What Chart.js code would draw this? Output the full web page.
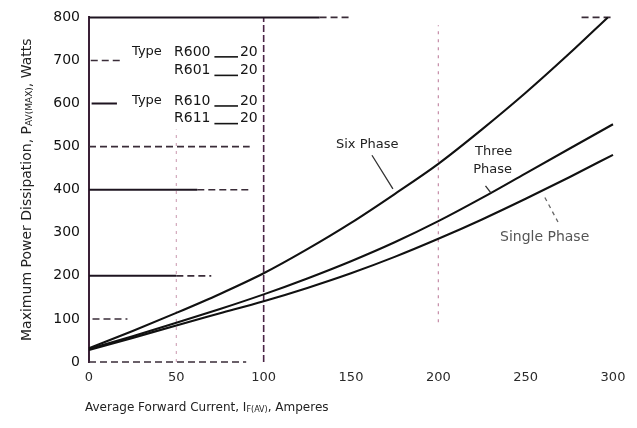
<!DOCTYPE html>
<html>
<head>
<meta charset="utf-8">
<script src="https://cdn.jsdelivr.net/npm/chart.js@4"></script>
<style>
  html, body { margin: 0; padding: 0; background: #fff; }
  canvas { display: block; }
</style>
</head>
<body>
<canvas id="c" width="637" height="428"></canvas>
<script>
// Average forward current, amperes
const currentA = [0, 25, 50, 75, 100, 125, 150, 175, 200, 225, 250, 275, 300];
// The six phase curve leaves the 800 W scale just before 300 A
const currentSixA = [0, 25, 50, 75, 100, 125, 150, 175, 200, 225, 250, 275, 297];

// Maximum power dissipation, watts
const sixPhaseW    = [32, 72, 114, 158, 206, 262, 323, 390, 460, 540, 625, 716, 800];
const threePhaseW  = [30, 60, 91, 123, 157, 194, 234, 278, 327, 381, 438, 495, 552];
const singlePhaseW = [28, 56, 85, 113, 141, 172, 206, 244, 286, 331, 379, 429, 481];

const currentTicks = [0, 50, 100, 150, 200, 250, 300];
const powerTicks = [0, 100, 200, 300, 400, 500, 600, 700, 800];

// Horizontal guides: [watts, from amps, to amps]
const solidGuides = [[800, 0, 132], [400, 0, 62], [200, 0, 50], [600, 1.5, 16]];
const dashedGuides = [[800, 132, 150], [800, 282, 300], [500, 0, 92], [400, 62, 92],
                      [200, 50, 70], [100, 2, 22], [0, 0, 90], [700, 1, 18]];
// Vertical guides: [amps, from watts, to watts]
const currentGuides = [[100, 0, 800], [200, 92, 782], [50, 0, 540]];

const pts = (xs, ys) => xs.map((x, i) => ({ x, y: ys[i] }));

const curveStyle = {
  borderColor: '#111', borderWidth: 2.1, pointRadius: 0,
  cubicInterpolationMode: 'monotone', fill: false, clip: 4
};

const datasets = [
  { label: 'Six Phase', data: pts(currentSixA, sixPhaseW), ...curveStyle },
  { label: 'Three Phase', data: pts(currentA, threePhaseW), ...curveStyle },
  { label: 'Single Phase', data: pts(currentA, singlePhaseW), ...curveStyle }
];

solidGuides.forEach(([w, a0, a1]) => datasets.push({
  data: [{ x: a0, y: w }, { x: a1, y: w }],
  borderColor: '#1e1420', borderWidth: 2, pointRadius: 0, clip: 4
}));
dashedGuides.forEach(([w, a0, a1]) => datasets.push({
  data: [{ x: a0, y: w }, { x: a1, y: w }],
  borderColor: '#3a2c38', borderWidth: 1.6, borderDash: [7, 4], pointRadius: 0, clip: 4
}));
currentGuides.forEach(([a, w0, w1], i) => datasets.push({
  data: [{ x: a, y: w0 }, { x: a, y: w1 }],
  borderColor: i === 0 ? '#4a2446' : (i === 1 ? '#c48aa6' : '#d2a8bc'),
  borderWidth: i === 0 ? 1.6 : 1.2,
  borderDash: i === 0 ? [7, 3] : [3, 5],
  pointRadius: 0, clip: 4
}));

// Draws a run of text pieces, some of them lowered as subscripts
function drawRun(ctx, x, y, pieces) {
  let cx = x;
  pieces.forEach(([txt, font, dy]) => {
    ctx.font = font;
    ctx.fillText(txt, cx, y + dy);
    cx += ctx.measureText(txt).width;
  });
  return cx - x;
}
function runWidth(ctx, pieces) {
  let w = 0;
  pieces.forEach(([txt, font]) => { ctx.font = font; w += ctx.measureText(txt).width; });
  return w;
}

const notes = {
  id: 'notes',
  afterDatasetsDraw(chart) {
    const { ctx, scales: { x, y } } = chart;
    const px = v => x.getPixelForValue(v);
    const py = v => y.getPixelForValue(v);
    ctx.save();
    ctx.fillStyle = '#151515';
    ctx.textBaseline = 'middle';
    ctx.textAlign = 'left';

    // Device type key
    const rows = [
      { type: true, code: 'R600', w: 720 },
      { type: false, code: 'R601', w: 677 },
      { type: true, code: 'R610', w: 606 },
      { type: false, code: 'R611', w: 565 }
    ];
    rows.forEach(r => {
      const yy = py(r.w);
      ctx.font = '13px "DejaVu Sans"';
      if (r.type) ctx.fillText('Type', px(24.6), yy);
      ctx.font = '14px "DejaVu Sans"';
      ctx.fillText(r.code, px(48.7), yy);
      ctx.strokeStyle = '#151515';
      ctx.lineWidth = 1.6;
      ctx.beginPath();
      ctx.moveTo(px(71.8), yy + 5);
      ctx.lineTo(px(85.3), yy + 5);
      ctx.stroke();
      ctx.fillText('20', px(86.4), yy);
    });

    // Curve names and their pointers
    ctx.font = '13px "DejaVu Sans"';
    ctx.fillStyle = '#222';
    ctx.fillText('Six Phase', px(141.4), py(505));
    ctx.fillText('Three', px(221), py(489));
    ctx.fillText('Phase', px(220), py(446));
    ctx.strokeStyle = '#333';
    ctx.lineWidth = 1.3;
    ctx.beginPath();
    ctx.moveTo(px(162), py(480)); ctx.lineTo(px(174), py(402));
    ctx.moveTo(px(227), py(409)); ctx.lineTo(px(230), py(393));
    ctx.stroke();

    ctx.save();
    ctx.filter = 'blur(0.7px)';
    ctx.fillStyle = '#555';
    ctx.font = '14px "DejaVu Sans"';
    ctx.fillText('Single Phase', px(235.3), py(290));
    ctx.strokeStyle = '#666';
    ctx.setLineDash([4, 4]);
    ctx.beginPath();
    ctx.moveTo(px(261), py(382)); ctx.lineTo(px(268.5), py(325));
    ctx.stroke();
    ctx.restore();

    // Axis titles
    ctx.fillStyle = '#222';
    const yTitle = [
      ['Maximum Power Dissipation, P', '14px "DejaVu Sans"', 0],
      ['AV(MAX)', '9px "DejaVu Sans"', 3],
      [', Watts', '14px "DejaVu Sans"', 0]
    ];
    ctx.save();
    ctx.translate(27, (chart.chartArea.top + chart.chartArea.bottom) / 2);
    ctx.rotate(-Math.PI / 2);
    drawRun(ctx, -runWidth(ctx, yTitle) / 2, 0, yTitle);
    ctx.restore();

    const xTitle = [
      ['Average Forward Current, I', '12px "DejaVu Sans"', 0],
      ['F(AV)', '8px "DejaVu Sans"', 2],
      [', Amperes', '12px "DejaVu Sans"', 0]
    ];
    drawRun(ctx, 85, 408, xTitle);
    ctx.restore();
  }
};

new Chart(document.getElementById('c'), {
  type: 'line',
  data: { datasets },
  options: {
    responsive: false,
    animation: false,
    devicePixelRatio: 1,
    layout: { padding: { top: 12, right: 24, left: 0, bottom: 0 } },
    plugins: { legend: { display: false }, tooltip: { enabled: false } },
    scales: {
      x: {
        type: 'linear', min: 0, max: 300,
        afterBuildTicks: s => { s.ticks = currentTicks.map(v => ({ value: v })); },
        afterFit: s => { s.height = 66; },
        grid: { display: false, drawTicks: false },
        border: { display: false },
        ticks: { padding: 8, color: '#2a2a2a', font: { family: 'DejaVu Sans', size: 13 }, maxRotation: 0 }
      },
      y: {
        type: 'linear', min: 0, max: 800,
        afterBuildTicks: s => { s.ticks = powerTicks.map(v => ({ value: v })); },
        afterFit: s => { s.width = 89; },
        grid: { display: false, drawTicks: false },
        border: { display: true, color: '#3a2036', width: 2 },
        ticks: { padding: 9, color: '#111', font: { family: 'DejaVu Sans', size: 14 } }
      }
    }
  },
  plugins: [notes]
});
</script>
</body>
</html>
